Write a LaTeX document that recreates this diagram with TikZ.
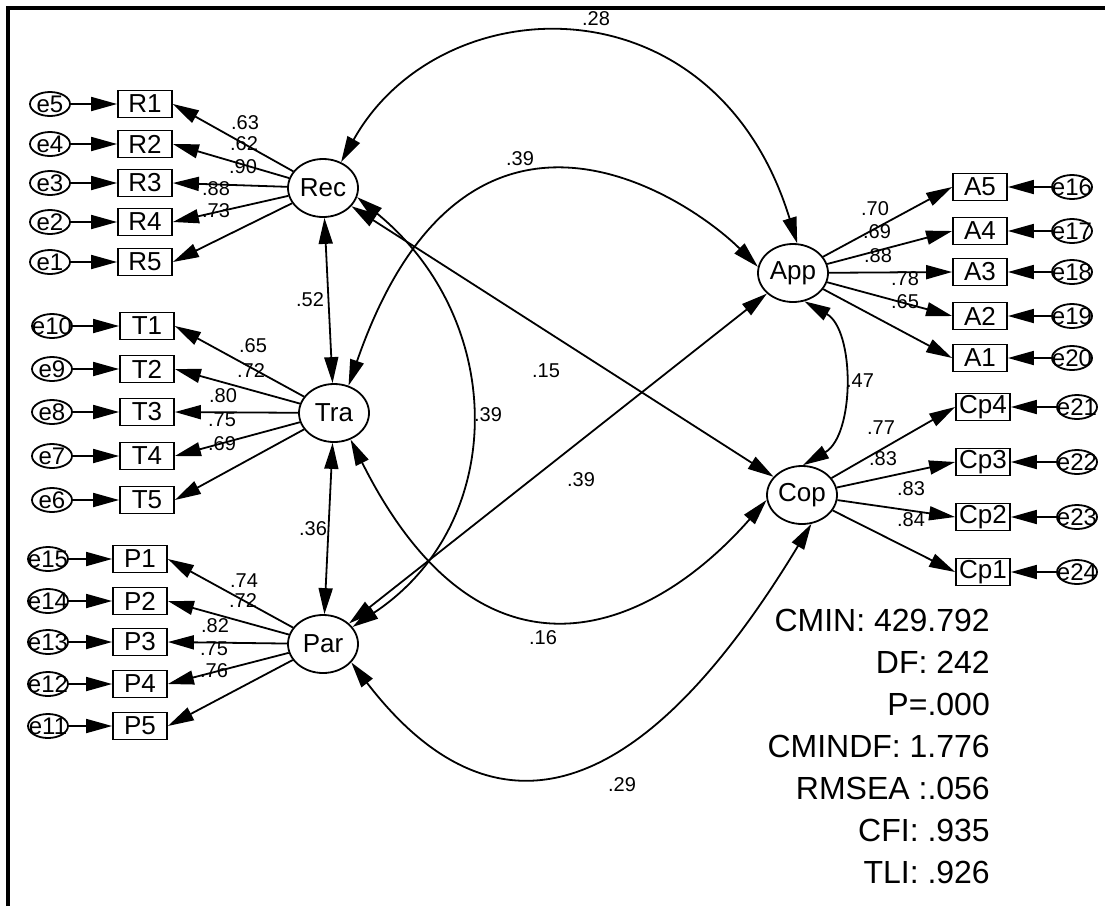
\documentclass[tikz,border=0pt]{standalone}
\usepackage{fontspec}
\setmainfont{Liberation Sans}
\usetikzlibrary{arrows.meta,shapes.geometric}

\begin{document}
\begin{tikzpicture}[x=1pt,y=-1pt]
    \tikzstyle{latent}=[ellipse, draw, line width=1.8pt, minimum width=70pt, minimum height=58pt, inner sep=0pt, font=\fontsize{26}{26}\selectfont]
    \tikzstyle{item}=[rectangle, draw, line width=1.8pt, minimum width=54pt, minimum height=27pt, inner sep=0pt, font=\fontsize{26}{26}\selectfont]
    \tikzstyle{err}=[ellipse, draw, line width=1.8pt, minimum width=40pt, minimum height=24pt, inner sep=0pt]
    \tikzstyle{every label}=[inner sep=0pt, font=\fontsize{24}{24}\selectfont]
    \tikzstyle{load}=[inner sep=0pt, font=\fontsize{20}{20}\selectfont]
    \tikzstyle{arr}=[line width=1.8pt, -{Triangle[length=26pt,width=14pt]}]
    \tikzstyle{cov}=[line width=1.8pt, {Triangle[length=26pt,width=14pt]}-{Triangle[length=26pt,width=14pt]}]

    \useasboundingbox (0,0) rectangle (1105,906);
    \draw[line width=4pt] (8,906) -- (8,8) -- (1105,8);

    \node[latent] (rec) at (323,188) {Rec};
    \node[latent] (tra) at (334,413) {Tra};
    \node[latent] (par) at (323,644) {Par};
    \node[latent] (app) at (793,273) {App};
    \node[latent] (cop) at (802,495) {Cop};

    \foreach \i/\y/\e/\lx/\ly/\v in {1/104/5/245/123/.63, 2/144/4/244/144/.62, 3/183/3/243/167/.90, 4/222/2/216/189/.88, 5/262/1/216/211/.73} {
        \node[item] (R\i) at (145,\y) {R\i};
        \node[err, label={center:e\e}] (e\e) at (50,\y) {};
        \draw[arr] (e\e) -- (R\i);
        \draw[arr] (rec) -- (R\i.east);
        \node[load] (lR\i) at (\lx,\ly) {\v};
    }
    \foreach \i/\y/\e/\lx/\ly/\v in {1/326/10/253/346/.65, 2/369/9/251/371/.72, 3/412/8/223/396/.80, 4/456/7/222/420/.75, 5/500/6/222/444/.69} {
        \node[item] (T\i) at (147,\y) {T\i};
        \node[err, label={center:e\e}] (e\e) at (52,\y) {};
        \draw[arr] (e\e) -- (T\i);
        \draw[arr] (tra) -- (T\i.east);
        \node[load] (lT\i) at (\lx,\ly) {\v};
    }
    \foreach \i/\y/\e/\lx/\ly/\v in {1/559/15/244/581/.74, 2/601/14/243/601/.72, 3/642/13/215/626/.82, 4/684/12/214/649/.75, 5/726/11/214/671/.76} {
        \node[item] (P\i) at (140,\y) {P\i};
        \node[err, label={center:e\e}] (e\e) at (48,\y) {};
        \draw[arr] (e\e) -- (P\i);
        \draw[arr] (par) -- (P\i.east);
        \node[load] (lP\i) at (\lx,\ly) {\v};
    }
    \foreach \i/\y/\e/\lx/\ly/\v in {5/187/16/875/209/.70, 4/231/17/877/232/.69, 3/272/18/878/256/.88, 2/316/19/905/279/.78, 1/358/20/905/302/.65} {
        \node[item] (A\i) at (980,\y) {A\i};
        \node[err, label={center:e\e}] (e\e) at (1072,\y) {};
        \draw[arr] (e\e) -- (A\i);
        \draw[arr] (app) -- (A\i.west);
        \node[load] (lA\i) at (\lx,\ly) {\v};
    }
    \foreach \i/\y/\e/\lx/\ly/\v in {4/407/21/881/428/.77, 3/462/22/883/459/.83, 2/517/23/911/489/.83, 1/572/24/911/520/.84} {
        \node[item] (Cp\i) at (983,\y) {Cp\i};
        \node[err, label={center:e\e}] (e\e) at (1077,\y) {};
        \draw[arr] (e\e) -- (Cp\i);
        \draw[arr] (cop) -- (Cp\i.west);
        \node[load] (lC\i) at (\lx,\ly) {\v};
    }

    \draw[cov] (rec) -- (tra);
    \draw[cov] (tra) -- (par);
    \draw[cov] (rec) -- (cop);
    \draw[cov] (par) -- (app);
    \draw[cov] (rec.55) .. controls (440,-15) and (715,-25) .. (app.82);
    \draw[cov] (tra.62) .. controls (467,44) and (691,200) .. (app.170);
    \draw[cov] (rec.-15) .. controls (508,321) and (508,524) .. (par.30);
    \draw[cov] (tra.-58) .. controls (481,700) and (647,636) .. (cop.188);
    \draw[cov] (par.-33) .. controls (480,830) and (625,832) .. (cop.-72);
    \draw[cov] (app.-68) .. controls (855,330) and (855,435) .. (cop.88);

    \node[load] (c28) at (596,19) {.28};
    \node[load] (c39a) at (520,159) {.39};
    \node[load] (c39b) at (488,415) {.39};
    \node[load] (c15) at (546,371) {.15};
    \node[load] (c39c) at (581,480) {.39};
    \node[load] (c16) at (543,638) {.16};
    \node[load] (c29) at (622,785) {.29};
    \node[load] (c47) at (860,381) {.47};
    \node[load] (c52) at (310,300) {.52};
    \node[load] (c36) at (313,529) {.36};

    \node[anchor=north east, align=right, inner sep=0pt, font=\fontsize{32}{42}\selectfont] (fit) at (990,609) {CMIN: 429.792\\DF: 242\\P=.000\\CMINDF: 1.776\\RMSEA :.056\\CFI: .935\\TLI: .926};
\end{tikzpicture}
\end{document}
